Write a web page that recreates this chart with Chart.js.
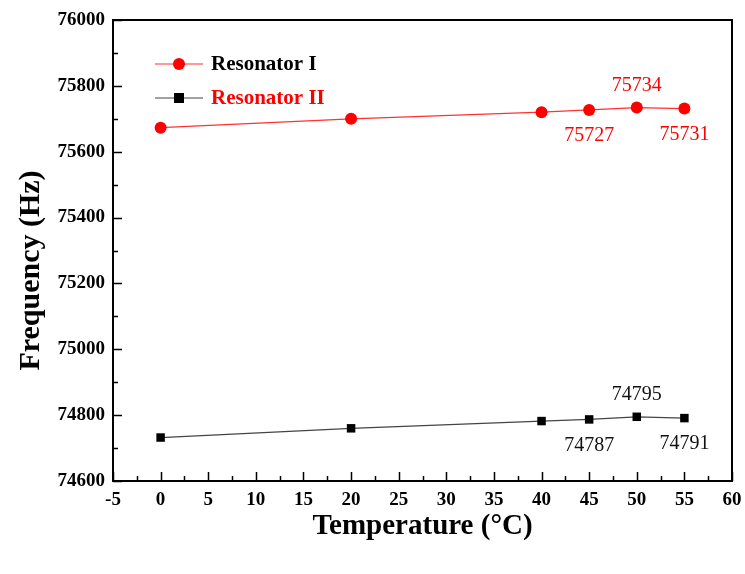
<!DOCTYPE html>
<html>
<head>
<meta charset="utf-8">
<script src="https://cdn.jsdelivr.net/npm/chart.js@4.4.1/dist/chart.umd.min.js"></script>
<style>
  html, body { margin: 0; padding: 0; background: #fff; }
  #wrap { width: 745px; height: 574px; }
</style>
</head>
<body>
<div id="wrap"><canvas id="freqChart" width="745" height="574"></canvas></div>
<script>
// temperature sweep (°C) and measured resonant frequency (Hz)
const temps = [0, 20, 40, 45, 50, 55];
const resonator1 = [75673, 75700, 75720, 75727, 75734, 75731];
const resonator2 = [74732, 74760, 74782, 74787, 74795, 74791];
const seriesNames = ['Resonator I', 'Resonator II'];
const xTitle = 'Temperature (°C)';
const yTitle = 'Frequency (Hz)';

// which points get a value label, and on which side
const labelIdx = [3, 4, 5];
const labelSide = ['below', 'above', 'below'];

const SERIF = '"Liberation Serif", "DejaVu Serif", serif';
const RED = '#ff0000';
const BLACK = '#000000';

function toPoints(ys) {
    return temps.map((t, i) => ({ x: t, y: ys[i] }));
}

// box frame + inward major/minor ticks + rotated y title
const frameTicks = {
    id: 'frameTicks',
    afterDraw(chart) {
        const { ctx, chartArea: a, scales: { x, y } } = chart;
        ctx.save();
        ctx.strokeStyle = '#000';
        ctx.lineWidth = 2;
        ctx.strokeRect(a.left, a.top, a.right - a.left, a.bottom - a.top);
        ctx.lineWidth = 1.5;
        ctx.beginPath();
        for (let v = x.min; v <= x.max + 0.01; v += 2.5) {
            const px = Math.round(x.getPixelForValue(v)) + 0.5;
            const len = (Math.abs(v % 5) < 0.01) ? 9 : 5;
            ctx.moveTo(px, a.bottom);
            ctx.lineTo(px, a.bottom - len);
        }
        for (let v = y.min; v <= y.max + 0.01; v += 100) {
            const py = Math.round(y.getPixelForValue(v)) + 0.5;
            const len = (v % 200 === 0) ? 9 : 5;
            ctx.moveTo(a.left, py);
            ctx.lineTo(a.left + len, py);
        }
        ctx.stroke();

        // y title sits a little below the plot's middle
        ctx.translate(31, (a.top + a.bottom) / 2 + 20);
        ctx.rotate(-Math.PI / 2);
        ctx.font = 'bold 30px ' + SERIF;
        ctx.fillStyle = '#000';
        ctx.textAlign = 'center';
        ctx.textBaseline = 'middle';
        ctx.fillText(yTitle, 0, 0);
        ctx.restore();
    }
};

// value labels next to the last few points
const valueLabels = {
    id: 'valueLabels',
    afterDatasetsDraw(chart) {
        const { ctx } = chart;
        ctx.save();
        ctx.font = '20px ' + SERIF;
        ctx.textAlign = 'center';
        ctx.textBaseline = 'middle';
        chart.data.datasets.forEach((ds, di) => {
            const meta = chart.getDatasetMeta(di);
            ctx.fillStyle = di === 0 ? RED : '#111';
            labelIdx.forEach((idx, k) => {
                const pt = meta.data[idx];
                const dy = labelSide[k] === 'above' ? -22 : 26;
                ctx.fillText(String(ds.data[idx].y), pt.x, pt.y + dy);
            });
        });
        ctx.restore();
    }
};

// legend inside the plot area
const innerLegend = {
    id: 'innerLegend',
    afterDraw(chart) {
        const { ctx, chartArea: a } = chart;
        const textColors = [BLACK, RED];
        ctx.save();
        chart.data.datasets.forEach((ds, i) => {
            const yy = a.top + 44 + i * 34;
            const x0 = a.left + 42;
            ctx.strokeStyle = ds.borderColor;
            ctx.lineWidth = 1.2;
            ctx.beginPath();
            ctx.moveTo(x0, yy);
            ctx.lineTo(x0 + 48, yy);
            ctx.stroke();
            ctx.fillStyle = ds.pointBackgroundColor;
            if (ds.pointStyle === 'rect') {
                ctx.fillRect(x0 + 24 - 5, yy - 5, 10, 10);
            } else {
                ctx.beginPath();
                ctx.arc(x0 + 24, yy, 6, 0, Math.PI * 2);
                ctx.fill();
            }
            ctx.fillStyle = textColors[i];
            ctx.font = 'bold 21px ' + SERIF;
            ctx.textBaseline = 'middle';
            ctx.textAlign = 'left';
            ctx.fillText(ds.label, x0 + 56, yy + 1);
        });
        ctx.restore();
    }
};

const chart = new Chart(document.getElementById('freqChart'), {
    type: 'line',
    data: {
        datasets: [{
            label: seriesNames[0],
            data: toPoints(resonator1),
            borderColor: '#ff3030',
            borderWidth: 1.2,
            pointStyle: 'circle',
            pointRadius: 6,
            pointBackgroundColor: RED,
            pointBorderWidth: 0,
            tension: 0
        }, {
            label: seriesNames[1],
            data: toPoints(resonator2),
            borderColor: '#444444',
            borderWidth: 1.2,
            pointStyle: 'rect',
            pointRadius: 6,
            pointBackgroundColor: BLACK,
            pointBorderWidth: 0,
            tension: 0
        }]
    },
    options: {
        responsive: false,
        animation: false,
        layout: { padding: { top: 20, right: 13, left: 0, bottom: 0 } },
        plugins: {
            legend: { display: false },
            tooltip: { enabled: false }
        },
        scales: {
            x: {
                type: 'linear',
                min: -5,
                max: 60,
                grid: { display: false, drawTicks: false },
                border: { display: false },
                afterFit: s => { s.height = 93; s.paddingRight = 0; s.paddingLeft = 0; },
                ticks: {
                    stepSize: 5,
                    padding: 8,
                    color: '#000',
                    font: { family: SERIF, size: 19, weight: 'bold' }
                },
                title: {
                    display: true,
                    text: xTitle,
                    color: '#000',
                    font: { family: SERIF, size: 29, weight: 'bold' },
                    padding: { top: 0, bottom: 30 }
                }
            },
            y: {
                min: 74600,
                max: 76000,
                grid: { display: false, drawTicks: false },
                border: { display: false },
                afterFit: s => { s.width = 113; },
                ticks: {
                    stepSize: 200,
                    padding: 8,
                    color: '#000',
                    callback: v => String(v),
                    font: { family: SERIF, size: 19, weight: 'bold' }
                }
            }
        }
    },
    plugins: [frameTicks, valueLabels, innerLegend]
});
</script>
</body>
</html>
